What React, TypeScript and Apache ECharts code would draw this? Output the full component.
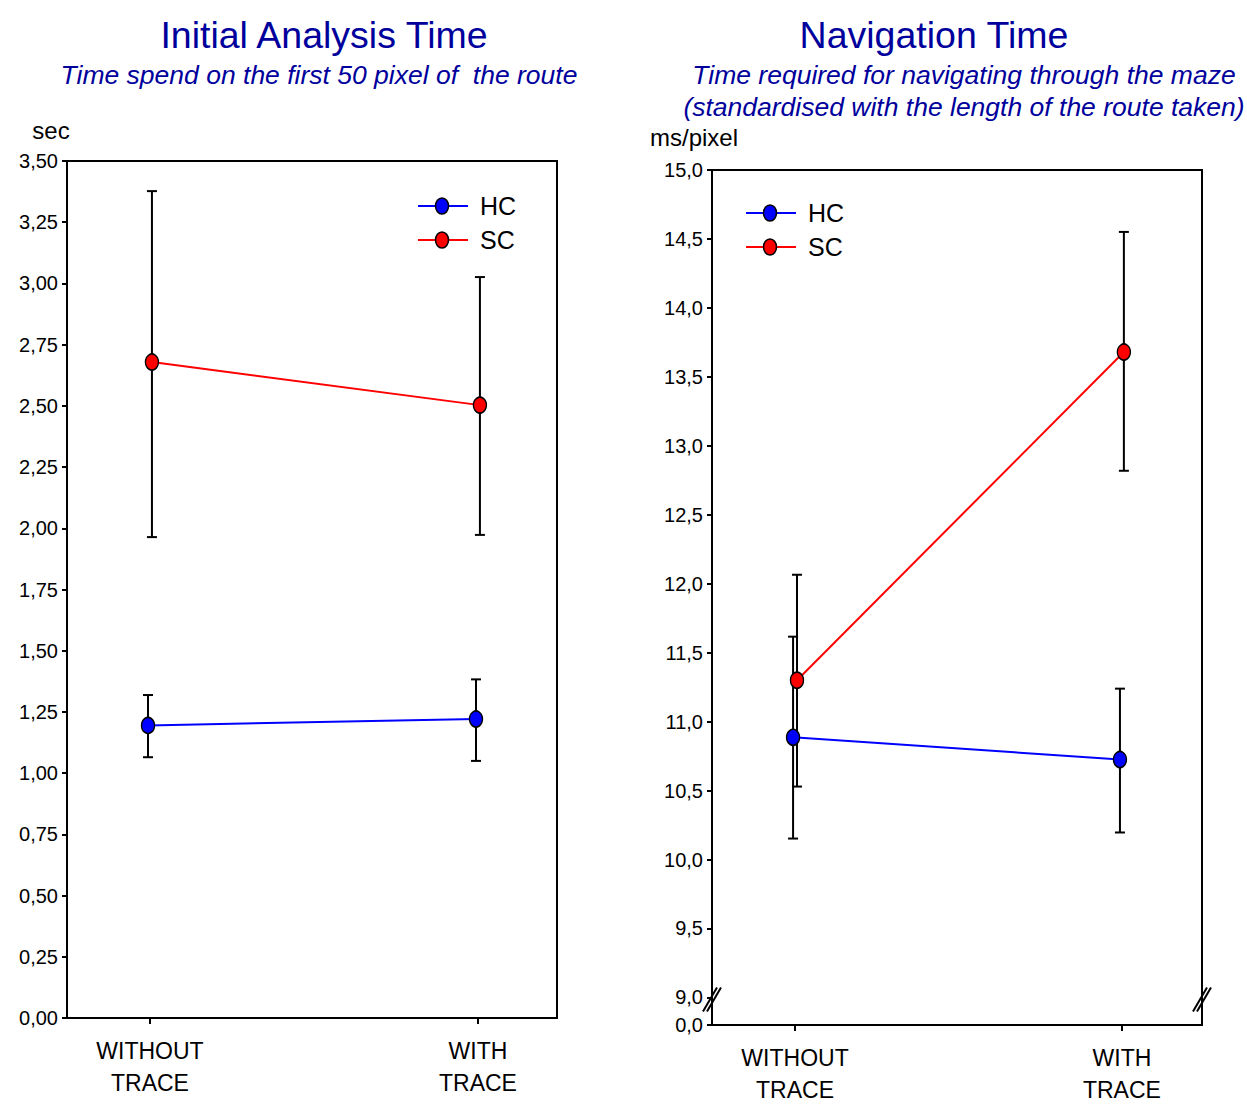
import React, { useEffect, useRef } from "react";
import * as echarts from "echarts";

// ---------- data ----------
const CATEGORIES = ["WITHOUT\nTRACE", "WITH\nTRACE"];
const GROUPS = ["HC", "SC"];
const COLORS = ["#0000ff", "#ff0000"];
const X_OFFSETS = [-0.006, 0.006];

// Initial Analysis Time (sec)
const IAT_HC_MEAN = [1.195, 1.221];
const IAT_HC_LOW = [1.065, 1.05];
const IAT_HC_HIGH = [1.319, 1.383];
const IAT_SC_MEAN = [2.679, 2.503];
const IAT_SC_LOW = [1.964, 1.973];
const IAT_SC_HIGH = [3.377, 3.026];

// Navigation Time (ms/pixel)
const NAV_HC_MEAN = [10.886, 10.725];
const NAV_HC_LOW = [10.152, 10.196];
const NAV_HC_HIGH = [11.616, 11.239];
const NAV_SC_MEAN = [11.3, 13.68];
const NAV_SC_LOW = [10.529, 12.819];
const NAV_SC_HIGH = [12.065, 14.551];

const LEFT_Y_TICKS = [0, 0.25, 0.5, 0.75, 1, 1.25, 1.5, 1.75, 2, 2.25, 2.5, 2.75, 3, 3.25, 3.5];
const RIGHT_Y_TICKS = [8.8, 9, 9.5, 10, 10.5, 11, 11.5, 12, 12.5, 13, 13.5, 14, 14.5, 15];
const RIGHT_Y_MIN = 8.8;
const RIGHT_BREAK_VALUE = 8.985;

const TITLES = ["Initial Analysis Time", "Navigation Time"];
const SUBTITLES = [
  ["Time spend on the first 50 pixel of  the route"],
  ["Time required for navigating through the maze", "(standardised with the length of the route taken)"],
];
const UNITS = ["sec", "ms/pixel"];

const FONT = '"Liberation Sans", Arial, Helvetica, sans-serif';
const TITLE_COLOR = "#00009c";

const CHARTS = [
  {
    means: [IAT_HC_MEAN, IAT_SC_MEAN],
    lows: [IAT_HC_LOW, IAT_SC_LOW],
    highs: [IAT_HC_HIGH, IAT_SC_HIGH],
  },
  {
    means: [NAV_HC_MEAN, NAV_SC_MEAN],
    lows: [NAV_HC_LOW, NAV_SC_LOW],
    highs: [NAV_HC_HIGH, NAV_SC_HIGH],
  },
];

function errorBarRender(params: any, api: any) {
  const x = api.value(0);
  const lo = api.coord([x, api.value(1)]);
  const hi = api.coord([x, api.value(2)]);
  const cap = 5;
  const style = { stroke: "#000", lineWidth: 2 };
  return {
    type: "group",
    children: [
      { type: "line", shape: { x1: lo[0], y1: lo[1], x2: hi[0], y2: hi[1] }, style },
      { type: "line", shape: { x1: lo[0] - cap, y1: lo[1], x2: lo[0] + cap, y2: lo[1] }, style },
      { type: "line", shape: { x1: hi[0] - cap, y1: hi[1], x2: hi[0] + cap, y2: hi[1] }, style },
    ],
  };
}

export default function App() {
  const ref = useRef<HTMLDivElement>(null);

  useEffect(() => {
    document.body.style.margin = "0";
    if (!ref.current) return;
    const chart = echarts.init(ref.current, undefined, { renderer: "svg" });

    const grids = [
      { left: 67, top: 161, width: 490, height: 857 },
      { left: 712, top: 170, width: 490, height: 855 },
    ];
    const xRanges = [
      [-0.253, 1.241],
      [-0.254, 1.245],
    ];

    const xAxes = grids.map((_, gi) => ({
      type: "value",
      gridIndex: gi,
      min: xRanges[gi][0],
      max: xRanges[gi][1],
      axisLine: { show: true, onZero: false, lineStyle: { color: "#000", width: 2 } },
      axisTick: { show: true, customValues: [0, 1], length: 6, lineStyle: { color: "#000", width: 2 } },
      axisLabel: {
        customValues: [0, 1],
        formatter: (v: number) => CATEGORIES[Math.round(v)],
        fontFamily: FONT,
        fontSize: 23,
        lineHeight: 32,
        color: "#000",
        margin: 17,
        align: "center",
      },
      splitLine: { show: false },
    }));

    const yCommon = {
      axisLine: { show: true, onZero: false, lineStyle: { color: "#000", width: 2 } },
      splitLine: { show: false },
    };

    const yAxes = [
      {
        type: "value",
        gridIndex: 0,
        min: 0,
        max: 3.5,
        interval: 0.25,
        ...yCommon,
        axisTick: { show: true, length: 5, lineStyle: { color: "#000", width: 2 } },
        axisLabel: {
          customValues: LEFT_Y_TICKS,
          formatter: (v: number) => v.toFixed(2).replace(".", ","),
          fontFamily: FONT,
          fontSize: 20,
          color: "#000",
          margin: 9,
        },
      },
      {
        type: "value",
        gridIndex: 1,
        min: RIGHT_Y_MIN,
        max: 15,
        ...yCommon,
        axisTick: { show: true, customValues: RIGHT_Y_TICKS, length: 5, lineStyle: { color: "#000", width: 2 } },
        axisLabel: {
          customValues: RIGHT_Y_TICKS,
          formatter: (v: number) => (v < 8.9 ? "0,0" : v.toFixed(1).replace(".", ",")),
          fontFamily: FONT,
          fontSize: 20,
          color: "#000",
          margin: 9,
        },
      },
    ];

    const series: any[] = [];
    CHARTS.forEach((c, ci) => {
      GROUPS.forEach((g, gi) => {
        series.push({
          type: "custom",
          name: g + " error",
          xAxisIndex: ci,
          yAxisIndex: ci,
          z: 1,
          renderItem: errorBarRender,
          encode: { x: 0, y: [1, 2] },
          data: CATEGORIES.map((_, i) => [i + X_OFFSETS[gi], c.lows[gi][i], c.highs[gi][i]]),
          silent: true,
        });
      });
      GROUPS.forEach((g, gi) => {
        series.push({
          type: "line",
          name: g,
          xAxisIndex: ci,
          yAxisIndex: ci,
          z: 3,
          data: CATEGORIES.map((_, i) => [i + X_OFFSETS[gi], c.means[gi][i]]),
          symbol: "circle",
          symbolSize: [13, 16],
          lineStyle: { color: COLORS[gi], width: 2 },
          itemStyle: { color: COLORS[gi], borderColor: "#000", borderWidth: 1.5 },
        });
      });
    });

    const baseGraphics: any[] = [];
    const titleX = [324, 934];
    const subX = [319, 964];
    TITLES.forEach((t, i) => {
      baseGraphics.push({
        type: "text",
        x: titleX[i],
        y: 35,
        style: { text: t, fill: TITLE_COLOR, font: `37.5px ${FONT}`, align: "center", verticalAlign: "middle" },
      });
      SUBTITLES[i].forEach((s, j) => {
        baseGraphics.push({
          type: "text",
          x: subX[i],
          y: 75 + j * 32,
          style: { text: s, fill: TITLE_COLOR, font: `italic 26.5px ${FONT}`, align: "center", verticalAlign: "middle" },
        });
      });
    });
    // units
    const unitPos = [
      [51, 130],
      [694, 137],
    ];
    UNITS.forEach((u, i) => {
      baseGraphics.push({
        type: "text",
        x: unitPos[i][0],
        y: unitPos[i][1],
        style: { text: u, fill: "#000", font: `24px ${FONT}`, align: "center", verticalAlign: "middle" },
      });
    });
    // legends
    const legendPos = [
      [418, 206],
      [746, 213],
    ];
    legendPos.forEach(([lx, ly]) => {
      GROUPS.forEach((g, gi) => {
        const y = ly + gi * 34;
        baseGraphics.push({
          type: "line",
          shape: { x1: lx, y1: y, x2: lx + 50, y2: y },
          style: { stroke: COLORS[gi], lineWidth: 2 },
        });
        baseGraphics.push({
          type: "ellipse",
          shape: { cx: lx + 24, cy: y, rx: 6.5, ry: 8 },
          style: { fill: COLORS[gi], stroke: "#000", lineWidth: 1.5 },
        });
        baseGraphics.push({
          type: "text",
          x: lx + 62,
          y: y,
          style: { text: g, fill: "#000", font: `25px ${FONT}`, align: "left", verticalAlign: "middle" },
        });
      });
    });

    chart.setOption({
      animation: false,
      backgroundColor: "#fff",
      grid: grids.map((g) => ({ ...g, show: true, borderColor: "#000", borderWidth: 2, backgroundColor: "transparent" })),
      xAxis: xAxes,
      yAxis: yAxes,
      series,
      graphic: baseGraphics,
    });

    // axis break marks on right chart
    const leftPt = chart.convertToPixel({ xAxisIndex: 1, yAxisIndex: 1 }, [xRanges[1][0], RIGHT_BREAK_VALUE]) as number[];
    const rightPt = chart.convertToPixel({ xAxisIndex: 1, yAxisIndex: 1 }, [xRanges[1][1], RIGHT_BREAK_VALUE]) as number[];
    const breakGraphics: any[] = [];
    [leftPt, rightPt].forEach((p) => {
      [-2, 2].forEach((d) => {
        breakGraphics.push({
          type: "line",
          shape: { x1: p[0] - 7 + d, y1: p[1] + 12, x2: p[0] + 7 + d, y2: p[1] - 12 },
          style: { stroke: "#000", lineWidth: 2 },
          z: 10,
        });
      });
    });
    chart.setOption({ graphic: [...baseGraphics, ...breakGraphics] });

    return () => chart.dispose();
  }, []);

  return <div ref={ref} style={{ width: 1247, height: 1116 }} />;
}
